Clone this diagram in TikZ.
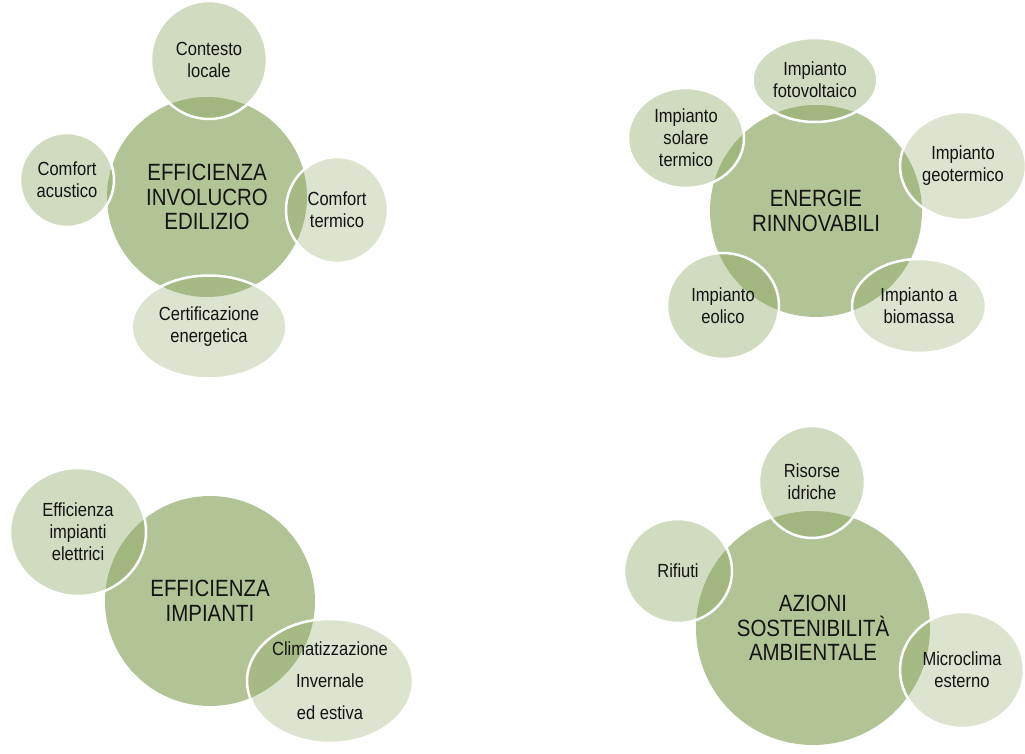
\documentclass[tikz,border=0pt]{standalone}
\usepackage{fontspec}
\setmainfont{Liberation Sans}[FakeStretch=0.87]
\usetikzlibrary{shapes.geometric}
\definecolor{bigfill}{RGB}{178,196,150}
\definecolor{smallfill}{RGB}{138,165,96}
\definecolor{labeltext}{RGB}{20,20,20}

\begin{document}
\begin{tikzpicture}[x=1pt,y=-1pt,
	big node/.style = {circle, fill=bigfill, inner sep=0pt, align=center,
		text=labeltext, font=\fontsize{23.5}{24.5}\selectfont},
	small node/.style = {ellipse, fill=smallfill, fill opacity=0.4, text opacity=1,
		draw=white, line width=2.5pt, inner sep=0pt, align=center,
		text=labeltext, font=\fontsize{19}{22}\selectfont},
	light node/.style = {small node, fill opacity=0.3}]
	\useasboundingbox (0,0) rectangle (1025,754);

	% involucro
	\node[big node, minimum size=200pt] at (207,197) (inv) {EFFICIENZA\\INVOLUCRO\\EDILIZIO};
	\node[small node, minimum width=116pt, minimum height=118pt] at (209,60) (ctx) {Contesto\\locale};
	\node[small node, minimum width=94pt, minimum height=94pt] at (67,180) (acu) {Comfort\\acustico};
	\node[light node, minimum width=102pt, minimum height=106pt] at (337,210) (ter) {Comfort\\termico};
	\node[light node, minimum width=155pt, minimum height=103pt] at (209,327) (cert) {Certificazione\\energetica};

	% rinnovabili
	\node[big node, minimum size=212pt] at (816,211) (ren) {ENERGIE\\RINNOVABILI};
	\node[small node, minimum width=125pt, minimum height=84pt] at (815,80) (pv) {Impianto\\fotovoltaico};
	\node[small node, minimum width=116pt, minimum height=100pt] at (686,138) (sol) {Impianto\\solare\\termico};
	\node[light node, minimum width=126pt, minimum height=108pt] at (963,166) (geo) {Impianto\\geotermico};
	\node[small node, minimum width=112pt, minimum height=106pt] at (723,306) (eol) {Impianto\\eolico};
	\node[light node, minimum width=134pt, minimum height=94pt] at (919,306) (bio) {Impianto a\\biomassa};

	% impianti
	\node[big node, minimum size=210pt] at (210,601) (imp) {EFFICIENZA\\IMPIANTI};
	\node[small node, minimum width=136pt, minimum height=128pt] at (78,532) (ele) {Efficienza\\impianti\\elettrici};
	\node[light node, minimum width=166pt, minimum height=124pt,
		font=\fontsize{19}{32}\selectfont] at (330,681) (clim) {Climatizzazione\\Invernale\\ed estiva};

	% sostenibilita
	\node[big node, minimum size=234pt] at (813,628) (amb) {AZIONI\\SOSTENIBILITÀ\\AMBIENTALE};
	\node[small node, minimum width=106pt, minimum height=112pt] at (812,482) (idr) {Risorse\\idriche};
	\node[small node, minimum width=108pt, minimum height=104pt] at (678,571) (rif) {Rifiuti};
	\node[light node, minimum width=124pt, minimum height=116pt] at (962,670) (mic) {Microclima\\esterno};
\end{tikzpicture}
\end{document}
